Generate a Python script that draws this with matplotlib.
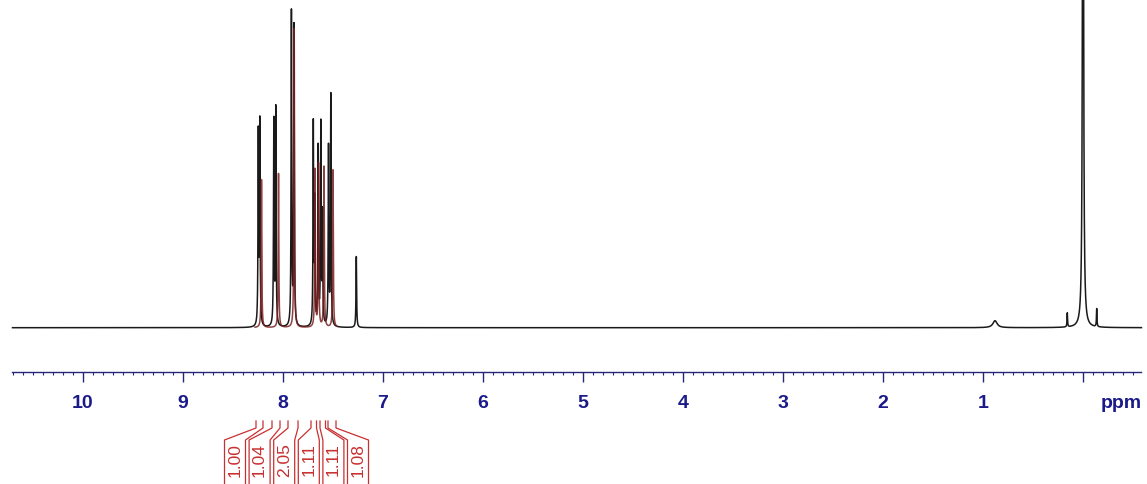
import numpy as np
import matplotlib
matplotlib.use("Agg")
import matplotlib.pyplot as plt
from matplotlib.ticker import MultipleLocator, FixedLocator

# peaks of the spectrum (ppm, height in baseline units, half width)
peak_ppm = [8.247, 8.232, 8.092, 8.072, 7.916, 7.890, 7.697, 7.683, 7.648,
            7.622, 7.605, 7.545, 7.522, 7.267, 0.88, 0.157, 0.0, -0.137]
peak_height = [191, 202, 205, 217, 314, 300, 200, 120, 178,
               200, 110, 178, 231, 71, 7, 14, 900, 18]
peak_width = [0.0035] * 14 + [0.025, 0.003, 0.005, 0.003]

# red overlay trace
red_ppm = [8.215, 8.045, 7.888, 7.680, 7.645, 7.590, 7.500]
red_height = [148, 154, 300, 158, 163, 161, 158]

# integration regions
int_left = [8.27, 8.11, 7.95, 7.72, 7.63, 7.55]
int_right = [8.20, 8.03, 7.85, 7.665, 7.575, 7.47]
int_values = ["1.00", "1.04", "2.05", "1.11", "1.11", "1.08"]

tick_values = [10, 9, 8, 7, 6, 5, 4, 3, 2, 1]

W, H = 1147, 484
BASE = 327.7  # baseline pixel row


def px_to_ppm(x):
    return (1083 - x) / 100.0


def py_to_int(y):
    return BASE - y


def lorentz(x, x0, h, w):
    return h / (1 + ((x - x0) / w) ** 2)


fig = plt.figure(figsize=(W / 100, H / 100), dpi=100)

# spectrum axes covering the figure
ax = fig.add_axes([0, 0, 1, 1])
ax.set_xlim(px_to_ppm(0), px_to_ppm(W))
ax.set_ylim(py_to_int(H), py_to_int(0))
ax.axis("off")

ppm = np.arange(px_to_ppm(12.5), px_to_ppm(1141.5), -0.0004)
spec = np.zeros_like(ppm)
for x0, h, w in zip(peak_ppm, peak_height, peak_width):
    spec += lorentz(ppm, x0, h, w)
ax.plot(ppm, spec, color="#1a1a1a", lw=1.1)

mask = (ppm < 8.28) & (ppm > 7.46)
red = np.zeros_like(ppm)
for x0, h in zip(red_ppm, red_height):
    red += lorentz(ppm, x0, h, 0.0035)
ax.plot(ppm[mask], red[mask], color="#7a2020", lw=1.1, alpha=0.85)

# integration brackets and labels
red_col = "#c83030"
pitch = 24.6
half = 10.5
for i, (l, r, val) in enumerate(zip(int_left, int_right, int_values)):
    cx = 235 + pitch * i
    for edge, bx in ((l, cx - half), (r, cx + half)):
        xs = [edge, edge, px_to_ppm(bx), px_to_ppm(bx)]
        ys = [py_to_int(421), py_to_int(428), py_to_int(440), py_to_int(H + 2)]
        ax.plot(xs, ys, color=red_col, lw=0.9)
    ax.text(px_to_ppm(cx), py_to_int(460), val, rotation=90, color=red_col,
            ha="center", va="center", fontsize=12.5, family="Liberation Sans")

# ppm scale
axis_y = 371.7
sc = fig.add_axes([12 / W, (H - axis_y) / H, 1129 / W, 0.0001])
sc.set_xlim(px_to_ppm(12), px_to_ppm(1141))
sc.patch.set_visible(False)
for s in ("top", "left", "right"):
    sc.spines[s].set_visible(False)
navy = "#25257a"
sc.spines["bottom"].set_color(navy)
sc.spines["bottom"].set_linewidth(1.0)
sc.set_yticks([])
sc.xaxis.set_major_locator(FixedLocator(list(range(0, 11))))
sc.xaxis.set_minor_locator(MultipleLocator(0.1))
sc.set_xticklabels([str(t) if t in tick_values else "" for t in range(0, 11)])
sc.tick_params(axis="x", which="major", direction="out", length=7.2, width=1.0,
               color=navy, pad=9.5, labelsize=14, labelcolor="#1a1a8a")
sc.tick_params(axis="x", which="minor", direction="out", length=2.2, width=0.8,
               color=navy)
for lab in sc.get_xticklabels():
    lab.set_fontweight("bold")
    lab.set_family("Liberation Sans")
ax.text(px_to_ppm(1121), py_to_int(404), "ppm", color="#1a1a8a", fontsize=14,
        fontweight="bold", family="Liberation Sans", ha="center", va="center")

fig.savefig("out.png", dpi=100)
